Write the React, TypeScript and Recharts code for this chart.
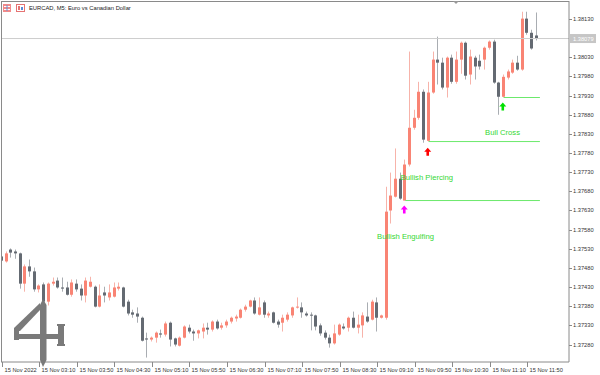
import React from 'react';
import { ComposedChart, Bar, XAxis, YAxis, ReferenceLine, ReferenceDot } from 'recharts';

const tickBars = [0, 8, 16, 24, 32, 40, 48, 56, 64, 72, 80, 88, 96, 104, 112];
const tickTimes = ['15 Nov 2022', '15 Nov 03:10', '15 Nov 03:50', '15 Nov 04:30', '15 Nov 05:10', '15 Nov 05:50', '15 Nov 06:30', '15 Nov 07:10', '15 Nov 07:50', '15 Nov 08:30', '15 Nov 09:10', '15 Nov 09:50', '15 Nov 10:30', '15 Nov 11:10', '15 Nov 11:50'];
const priceTicks = [1.3728, 1.3733, 1.3738, 1.3743, 1.3748, 1.3753, 1.3758, 1.3763, 1.3768, 1.3773, 1.3778, 1.3783, 1.3788, 1.3793, 1.3798, 1.3803, 1.3813];

const opens = [1.37510, 1.37497, 1.37528, 1.37523, 1.37518, 1.37439, 1.37484, 1.37471, 1.37424, 1.37437, 1.37392, 1.37439, 1.37447, 1.37429, 1.37429, 1.37410, 1.37439, 1.37426, 1.37408, 1.37431, 1.37431, 1.37379, 1.37416, 1.37403, 1.37405, 1.37426, 1.37429, 1.37392, 1.37364, 1.37361, 1.37350, 1.37296, 1.37293, 1.37298, 1.37309, 1.37306, 1.37337, 1.37296, 1.37277, 1.37298, 1.37324, 1.37314, 1.37309, 1.37314, 1.37324, 1.37319, 1.37340, 1.37324, 1.37330, 1.37340, 1.37348, 1.37350, 1.37371, 1.37379, 1.37395, 1.37358, 1.37390, 1.37356, 1.37364, 1.37340, 1.37337, 1.37345, 1.37356, 1.37377, 1.37377, 1.37361, 1.37358, 1.37356, 1.37330, 1.37311, 1.37298, 1.37283, 1.37306, 1.37327, 1.37324, 1.37350, 1.37324, 1.37330, 1.37353, 1.37345, 1.37390, 1.37350, 1.37350, 1.37630, 1.37666, 1.37713, 1.37656, 1.37750, 1.37846, 1.37872, 1.37940, 1.37812, 1.37938, 1.38024, 1.38016, 1.37951, 1.38029, 1.37966, 1.38024, 1.38068, 1.37985, 1.38029, 1.38021, 1.38024, 1.38055, 1.38071, 1.37964, 1.37927, 1.37977, 1.37990, 1.38016, 1.37998, 1.38131, 1.38094, 1.38087];
const highs = [1.37515, 1.37523, 1.37531, 1.37528, 1.37520, 1.37489, 1.37502, 1.37481, 1.37437, 1.37442, 1.37442, 1.37455, 1.37455, 1.37455, 1.37444, 1.37450, 1.37450, 1.37437, 1.37455, 1.37457, 1.37434, 1.37437, 1.37431, 1.37437, 1.37442, 1.37442, 1.37431, 1.37397, 1.37371, 1.37377, 1.37353, 1.37311, 1.37301, 1.37314, 1.37319, 1.37340, 1.37340, 1.37298, 1.37301, 1.37330, 1.37332, 1.37319, 1.37319, 1.37335, 1.37337, 1.37343, 1.37345, 1.37337, 1.37345, 1.37353, 1.37358, 1.37374, 1.37384, 1.37397, 1.37403, 1.37403, 1.37395, 1.37366, 1.37366, 1.37345, 1.37358, 1.37364, 1.37379, 1.37403, 1.37390, 1.37366, 1.37364, 1.37358, 1.37335, 1.37317, 1.37306, 1.37332, 1.37335, 1.37335, 1.37353, 1.37366, 1.37358, 1.37364, 1.37390, 1.37397, 1.37403, 1.37358, 1.37692, 1.37729, 1.37792, 1.37729, 1.37763, 1.38045, 1.37893, 1.37966, 1.37946, 1.37966, 1.38045, 1.38084, 1.38029, 1.38032, 1.38037, 1.38045, 1.38071, 1.38071, 1.38050, 1.38034, 1.38037, 1.38058, 1.38074, 1.38076, 1.37966, 1.37985, 1.37998, 1.38024, 1.38034, 1.38149, 1.38149, 1.38102, 1.38147];
const lows = [1.37497, 1.37494, 1.37507, 1.37504, 1.37426, 1.37418, 1.37457, 1.37418, 1.37416, 1.37387, 1.37382, 1.37434, 1.37426, 1.37418, 1.37408, 1.37405, 1.37418, 1.37395, 1.37390, 1.37429, 1.37377, 1.37377, 1.37390, 1.37395, 1.37403, 1.37421, 1.37377, 1.37356, 1.37350, 1.37337, 1.37288, 1.37246, 1.37288, 1.37285, 1.37298, 1.37301, 1.37275, 1.37275, 1.37275, 1.37296, 1.37309, 1.37290, 1.37296, 1.37296, 1.37306, 1.37314, 1.37319, 1.37319, 1.37324, 1.37335, 1.37340, 1.37348, 1.37366, 1.37377, 1.37358, 1.37356, 1.37350, 1.37350, 1.37335, 1.37324, 1.37314, 1.37340, 1.37350, 1.37374, 1.37350, 1.37353, 1.37317, 1.37317, 1.37303, 1.37293, 1.37272, 1.37280, 1.37303, 1.37319, 1.37314, 1.37322, 1.37309, 1.37298, 1.37337, 1.37343, 1.37314, 1.37348, 1.37345, 1.37596, 1.37664, 1.37658, 1.37656, 1.37745, 1.37841, 1.37867, 1.37807, 1.37810, 1.37935, 1.37959, 1.37946, 1.37925, 1.37961, 1.37961, 1.37987, 1.37972, 1.37959, 1.37972, 1.37998, 1.37998, 1.38050, 1.37961, 1.37880, 1.37925, 1.37972, 1.37987, 1.37995, 1.37995, 1.38089, 1.38050, 1.38074];
const closes = [1.37499, 1.37518, 1.37520, 1.37518, 1.37439, 1.37484, 1.37471, 1.37424, 1.37434, 1.37392, 1.37439, 1.37444, 1.37429, 1.37426, 1.37410, 1.37442, 1.37424, 1.37408, 1.37447, 1.37444, 1.37379, 1.37408, 1.37408, 1.37416, 1.37429, 1.37431, 1.37379, 1.37361, 1.37358, 1.37353, 1.37290, 1.37293, 1.37298, 1.37311, 1.37306, 1.37335, 1.37293, 1.37280, 1.37298, 1.37327, 1.37314, 1.37309, 1.37317, 1.37324, 1.37319, 1.37340, 1.37322, 1.37330, 1.37340, 1.37350, 1.37353, 1.37371, 1.37379, 1.37395, 1.37361, 1.37377, 1.37358, 1.37361, 1.37337, 1.37332, 1.37350, 1.37358, 1.37377, 1.37379, 1.37364, 1.37356, 1.37356, 1.37327, 1.37309, 1.37298, 1.37283, 1.37309, 1.37332, 1.37322, 1.37350, 1.37324, 1.37332, 1.37356, 1.37340, 1.37392, 1.37350, 1.37356, 1.37627, 1.37669, 1.37713, 1.37661, 1.37750, 1.37846, 1.37872, 1.37940, 1.37815, 1.37938, 1.38024, 1.38016, 1.37951, 1.38029, 1.37966, 1.38024, 1.38068, 1.37982, 1.38032, 1.38006, 1.38006, 1.38055, 1.38071, 1.37964, 1.37927, 1.37979, 1.37993, 1.38016, 1.37998, 1.38131, 1.38094, 1.38053, 1.38079];

const lastPrice = 1.38079;

const signalLevelBars = [86, 91, 107];
const signalLevelPrices = [1.37656, 1.37810, 1.37925];
const signalLevelEnd = 114.7;

const arrowBars = [86, 91, 107];
const arrowPrices = [1.37643, 1.37794, 1.37912];
const arrowColors = ['#FF00FF', '#FF0000', '#00E000'];

const patternBars = [80, 85, 103];
const patternPrices = [1.37562, 1.37716, 1.37833];
const patternNames = ['Bullish Engulfing', 'Bullish Piercing', 'Bull Cross'];

const data = opens.map((o, i) => ({
  i,
  open: o,
  high: highs[i],
  low: lows[i],
  close: closes[i],
  range: [lows[i], highs[i]],
}));

const FONT = '"Liberation Sans", Arial, sans-serif';
const BULL = '#F98474';
const BEAR = '#646A72';
const BULL_WICK = '#F7B3AA';
const BEAR_WICK = '#A9ADB2';
const AXIS = '#8A8A8A';
const SIG_LINE = '#6CE96C';
const SIG_TEXT = '#35D835';

const Candle = (props: any) => {
  const { x, y, width, height, payload } = props;
  if (!payload || !isFinite(y) || !isFinite(height)) return null;
  const { open, close, high, low } = payload;
  const ppu = height / (high - low);
  const yOf = (v: number) => y + (high - v) * ppu;
  const c = Math.round(x + width / 2 - 0.5);
  const bull = close >= open;
  const top = yOf(Math.max(open, close));
  const bot = yOf(Math.min(open, close));
  const bh = Math.max(1, bot - top);
  return (
    <g>
      <rect x={c} y={y} width={1} height={Math.max(1, height)} fill={bull ? BULL_WICK : BEAR_WICK} />
      <rect x={c - 1} y={top} width={3} height={bh} fill={bull ? BULL : BEAR} />
    </g>
  );
};

const XTick = (props: any) => {
  const { x, index } = props;
  const label = tickTimes[index] ?? '';
  const px = Math.round(x) + 0.5;
  return (
    <g>
      <line x1={px} x2={px} y1={362} y2={367} stroke={AXIS} strokeWidth={1} />
      <text x={px + 2} y={369.5} fontSize={5.7} fontFamily={FONT} fill="#333" dominantBaseline="central">
        {label}
      </text>
    </g>
  );
};

const YTick = (props: any) => {
  const { y, payload } = props;
  return (
    <g>
      <line x1={569} x2={572} y1={Math.round(y) + 0.5} y2={Math.round(y) + 0.5} stroke={AXIS} strokeWidth={1} />
      <text x={573} y={y} fontSize={5.7} fontFamily={FONT} fill="#333" dominantBaseline="central">
        {Number(payload.value).toFixed(5)}
      </text>
    </g>
  );
};

const ArrowUp = (color: string) => (p: any) => {
  const cx = p.cx - 1;
  const cy = p.cy;
  return (
    <path
      d={`M${cx},${cy} L${cx + 3.5},${cy + 4} L${cx + 1.3},${cy + 4} L${cx + 1.3},${cy + 8} L${cx - 1.3},${cy + 8} L${cx - 1.3},${cy + 4} L${cx - 3.5},${cy + 4} Z`}
      fill={color}
    />
  );
};

const PatternText = (name: string) => (p: any) => (
  <text x={p.cx} y={p.cy} fontSize={7.7} fontFamily={FONT} fill={SIG_TEXT} dominantBaseline="central">
    {name}
  </text>
);

export default function App() {
  return (
    <div style={{ position: 'relative', width: 600, height: 375, background: '#fff' }}>
      <style>{`body{margin:0;}`}</style>
      <ComposedChart
        width={600}
        height={375}
        data={data}
        margin={{ top: 1, right: 0, bottom: 0, left: 1 }}
      >
        <XAxis
          dataKey="i"
          type="number"
          domain={[-0.17, 120.9]}
          allowDataOverflow
          ticks={tickBars}
          interval={0}
          height={13}
          tickLine={false}
          axisLine={{ stroke: AXIS }}
          tick={<XTick />}
        />
        <YAxis
          orientation="right"
          width={31}
          type="number"
          domain={[1.372344, 1.38177]}
          allowDataOverflow
          ticks={priceTicks}
          interval={0}
          tickLine={false}
          axisLine={{ stroke: AXIS }}
          tick={<YTick />}
        />
        <ReferenceLine
          y={lastPrice}
          stroke="#CDCDCD"
          strokeWidth={1}
          label={(lp: any) => {
            const vb = lp.viewBox || {};
            const ly = vb.y ?? 40;
            return (
              <g>
                <rect x={570} y={ly - 4.5} width={26} height={9} fill="#C6C6C6" />
                <text x={573} y={ly} fontSize={5.7} fontFamily={FONT} fill="#fff" dominantBaseline="central">
                  {lastPrice.toFixed(5)}
                </text>
              </g>
            );
          }}
        />
        <Bar dataKey="range" barSize={4} isAnimationActive={false} shape={(p: any) => <Candle {...p} />} />
        {signalLevelBars.map((b, k) => (
          <ReferenceLine
            key={'lvl' + k}
            segment={[{ x: b, y: signalLevelPrices[k] }, { x: signalLevelEnd, y: signalLevelPrices[k] }]}
            stroke={SIG_LINE}
            strokeWidth={1}
            ifOverflow="visible"
          />
        ))}
        {arrowBars.map((b, k) => (
          <ReferenceDot key={'arr' + k} x={b} y={arrowPrices[k]} r={0} ifOverflow="visible" shape={ArrowUp(arrowColors[k])} />
        ))}
        {patternBars.map((b, k) => (
          <ReferenceDot key={'pt' + k} x={b} y={patternPrices[k]} r={0} ifOverflow="visible" shape={PatternText(patternNames[k])} />
        ))}
      </ComposedChart>
      <svg width={600} height={375} style={{ position: 'absolute', left: 0, top: 0, pointerEvents: 'none' }}>
        <line x1={1} x2={569} y1={1.5} y2={1.5} stroke={AXIS} strokeWidth={1} />
        <line x1={1.5} x2={1.5} y1={1} y2={362} stroke={AXIS} strokeWidth={1} />
        <path d="M453,1 L459,1 L456,4 Z" fill="#999" />
        <rect x={3} y={4} width={8} height={8} fill="#F28A8A" />
        <rect x={4} y={6} width={6} height={1} fill="#fff" />
        <rect x={4} y={9} width={6} height={1} fill="#fff" />
        <rect x={6.5} y={5} width={1} height={6} fill="#6B8FD6" />
        <rect x={16.5} y={4.5} width={8} height={7} fill="#fff" stroke="#E57373" strokeWidth={1} />
        <rect x={18} y={6} width={2} height={4} fill="#E57373" />
        <rect x={21} y={7} width={2} height={3} fill="#5B8BD8" />
        <text x={29} y={8} fontSize={5.8} fontFamily={FONT} fill="#222" dominantBaseline="central">
          EURCAD, M5:  Euro vs Canadian Dollar
        </text>
        <g fill="#7A7A7A">
          <path d="M40,305 L43,299 L46.5,305 L46.5,360 L43,367 L40,360 Z" />
          <path d="M40,303 L40,310 L20,331 L14,331 L14,328 Z" />
          <rect x={14} y={328} width={5} height={12} />
          <rect x={14} y={334} width={48} height={5} />
          <rect x={58} y={325} width={6} height={20} />
          <rect x={57} y={324} width={8} height={2} />
          <rect x={57} y={344} width={8} height={2} />
        </g>
      </svg>
    </div>
  );
}
